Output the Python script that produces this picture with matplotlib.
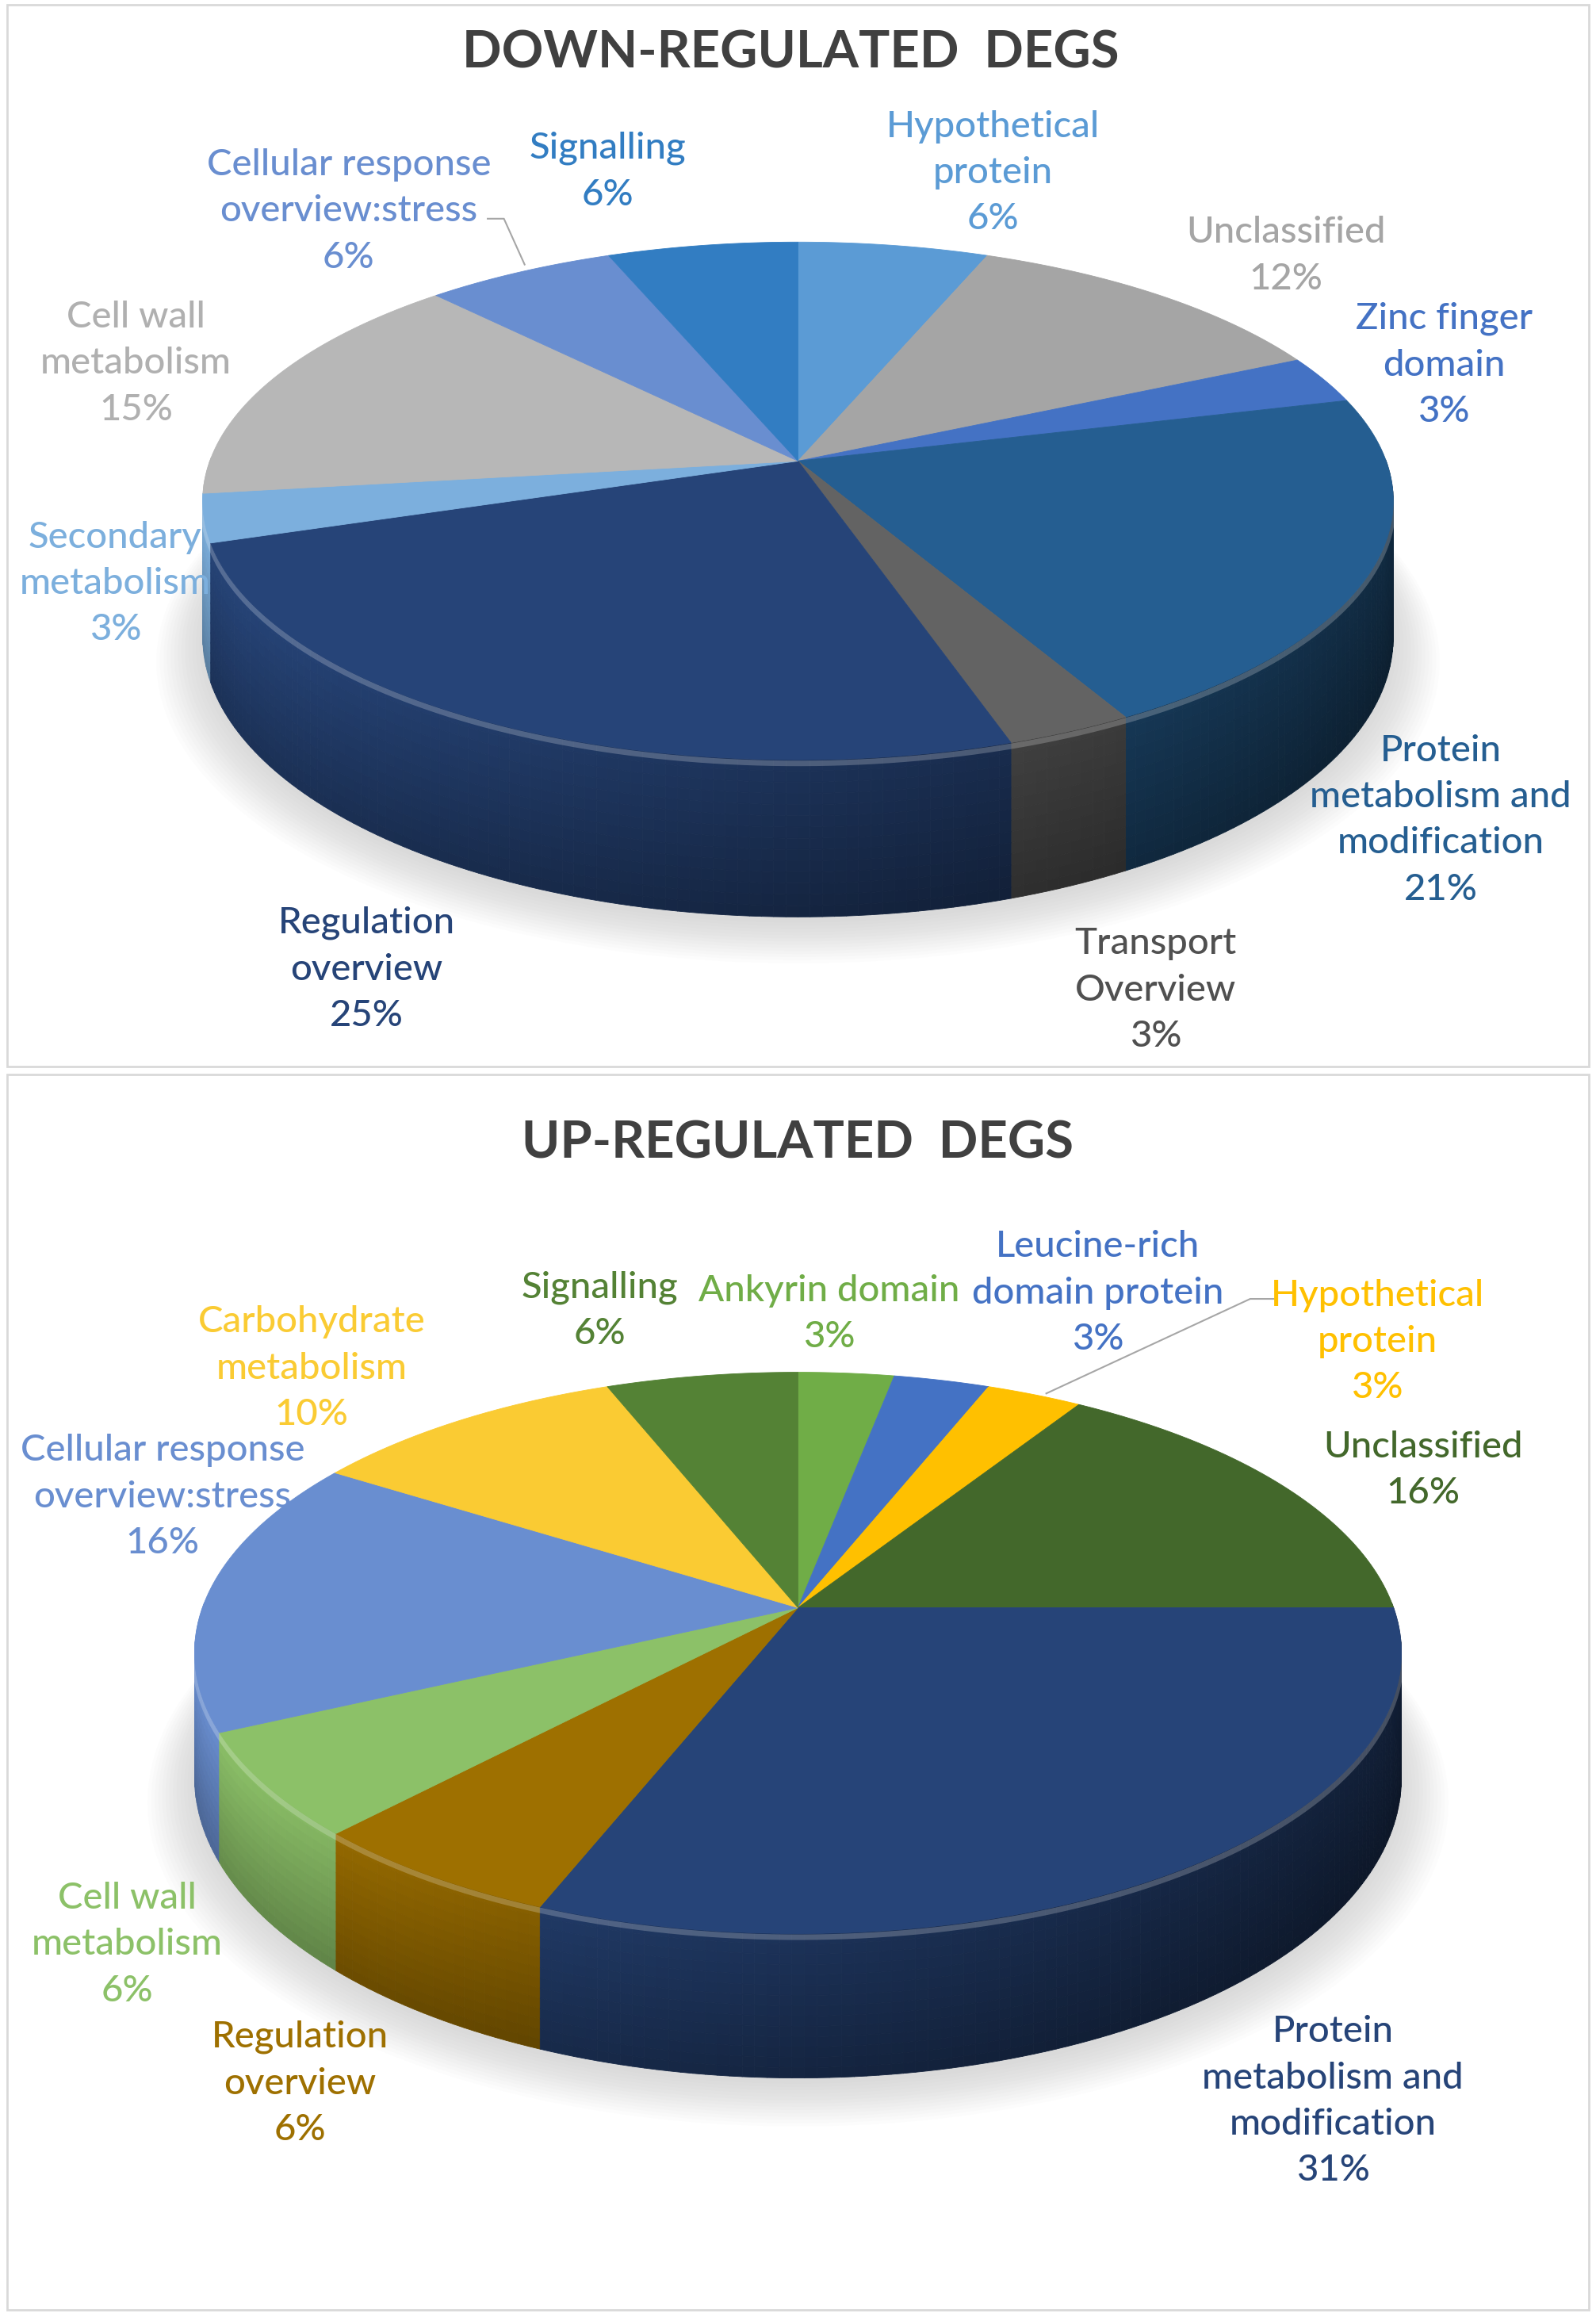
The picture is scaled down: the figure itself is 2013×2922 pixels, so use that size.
import numpy as np
import matplotlib
matplotlib.use("Agg")
import matplotlib.pyplot as plt
from matplotlib.collections import PolyCollection
from matplotlib.patches import Rectangle, Polygon
from matplotlib.colors import to_rgb

plt.rcParams['font.family'] = ['Lato', 'DejaVu Sans']

# ---------------- data ----------------
down_title = "DOWN-REGULATED  DEGS"
down_labels = ["Hypothetical\nprotein", "Unclassified", "Zinc finger\ndomain",
               "Protein\nmetabolism and\nmodification", "Transport\nOverview",
               "Regulation\noverview", "Secondary\nmetabolism", "Cell wall\nmetabolism",
               "Cellular response\noverview:stress", "Signalling"]
down_values = [6, 12, 3, 21, 3, 25, 3, 15, 6, 6]
down_colors = ["#5B9BD5", "#A5A5A5", "#4472C4", "#255E91", "#636363",
               "#264478", "#7CAFDD", "#B7B7B7", "#698ED0", "#327DC2"]
down_label_colors = ["#5B9BD5", "#A5A5A5", "#4472C4", "#255E91", "#505050",
                     "#264478", "#7CAFDD", "#B0B0B0", "#698ED0", "#327DC2"]

up_title = "UP-REGULATED  DEGS"
up_labels = ["Ankyrin domain", "Leucine-rich\ndomain protein", "Hypothetical\nprotein",
             "Unclassified", "Protein\nmetabolism and\nmodification", "Regulation\noverview",
             "Cell wall\nmetabolism", "Cellular response\noverview:stress",
             "Carbohydrate\nmetabolism", "Signalling"]
up_values = [3, 3, 3, 16, 31, 6, 6, 16, 10, 6]
up_colors = ["#70AD47", "#4472C4", "#FFC000", "#43682B", "#264478",
             "#9E7000", "#8CC168", "#698ED0", "#FACB33", "#548235"]
up_label_colors = ["#70AD47", "#4472C4", "#FFC000", "#43682B", "#264478",
                   "#9E7000", "#8CC168", "#698ED0", "#FACB33", "#548235"]

# ---------------- layout (reference pixel space 1080 x 1568) ----------------
W, H = 1080, 1568
down_geom = dict(cx=540, cy=312, s=398, sh=171, k=0.154, D=90)
up_geom = dict(cx=540, cy=1088, s=403, sh=185, k=0.161, D=82)
down_label_pos = [(672, 117), (870, 173), (977, 247), (975, 555), (782, 670),
                  (248, 656), (78, 395), (92, 246), (236, 143), (411, 116)]
up_label_pos = [(561, 889), (743, 875), (932, 908), (963, 995), (902, 1422),
                (203, 1410), (86, 1316), (110, 1013), (211, 926), (406, 887)]

fig = plt.figure(figsize=(20.13, 29.22), dpi=100)
ax = fig.add_axes([0, 0, 1, 1])
ax.set_xlim(0, W)
ax.set_ylim(H, 0)
ax.axis('off')

ax.add_patch(Rectangle((5, 3), 1070, 719, fill=False, ec="#D9D9D9", lw=2))
ax.add_patch(Rectangle((5, 727), 1070, 836, fill=False, ec="#D9D9D9", lw=2))


def proj(t, cx, cy, s, sh, k):
    u, v = np.cos(t), np.sin(t)
    return cx + s * u / (1 + k * v), cy - sh * v / (1 + k * v)


def depth(t, k, D):
    return D / (1 + k * np.sin(t))


def draw_pie(values, colors, g):
    cx, cy, s, sh, k, D = g['cx'], g['cy'], g['s'], g['sh'], g['k'], g['D']
    vals = np.asarray(values, float)
    fr = vals / vals.sum()
    edges = np.pi / 2 - 2 * np.pi * np.concatenate([[0], np.cumsum(fr)])

    # soft shadow
    tt = np.linspace(0, 2 * np.pi, 400)
    bx, by = proj(tt, cx, cy, s, sh, k)
    by = by + depth(tt, k, D)
    for i in range(14):
        sc = 1 + 0.006 * i
        ax.add_patch(Polygon(np.column_stack([cx + (bx - cx) * sc,
                                              cy + D + (by - cy - D) * sc + 4 + i * 0.8]),
                             closed=True, fc="#808080", ec='none', alpha=0.02, zorder=1))

    # sides
    strips = []
    for i in range(len(vals)):
        a0, a1 = edges[i], edges[i + 1]
        n = max(int(np.degrees(a0 - a1)), 2)
        ts = np.linspace(a0, a1, n + 1)
        for j in range(n):
            t0, t1 = ts[j], ts[j + 1]
            tm = 0.5 * (t0 + t1)
            if np.sin(tm) < 0.01:
                strips.append((np.sin(tm), t0, t1, tm, colors[i]))
    strips.sort(key=lambda z: -z[0])
    polys, fcs = [], []
    nr = 14
    for _, t0, t1, tm, c in strips:
        x0, y0 = proj(t0, cx, cy, s, sh, k)
        x1, y1 = proj(t1, cx, cy, s, sh, k)
        d0, d1 = depth(t0, k, D), depth(t1, k, D)
        base = np.array(to_rgb(c))
        fh = min(1.0, 0.74 - 0.30 * np.cos(tm))
        for r in range(nr):
            f0, f1 = r / nr, (r + 1) / nr
            polys.append([(x0, y0 + d0 * f0), (x1, y1 + d1 * f0),
                          (x1, y1 + d1 * f1), (x0, y0 + d0 * f1)])
            fv = 1 - 0.28 * (r + 0.5) / nr
            fcs.append(np.clip(base * fh * fv, 0, 1))
    pc = PolyCollection(polys, facecolors=fcs, edgecolors=fcs, linewidths=0.6, zorder=2)
    ax.add_collection(pc)

    # bevel highlight on the front rim
    tf = np.linspace(np.pi, 2 * np.pi, 300)
    rx, ry = proj(tf, cx, cy, s, sh, k)
    ax.plot(rx, ry + 2.5, color="white", alpha=0.22, lw=5, zorder=3,
            solid_capstyle='butt')

    # top face
    for i in range(len(vals)):
        a0, a1 = edges[i], edges[i + 1]
        ts = np.linspace(a0, a1, 200)
        px, py = proj(ts, cx, cy, s, sh, k)
        pts = np.column_stack([np.r_[cx, px], np.r_[cy, py]])
        ax.add_patch(Polygon(pts, closed=True, fc=colors[i], ec=colors[i], lw=0.6, zorder=4))


def draw_labels(labels, values, lcolors, pos):
    for lab, v, c, (x, y) in zip(labels, values, lcolors, pos):
        ax.text(x, y, f"{lab}\n{v}%", color=c, ha='center', va='center',
                fontsize=34, linespacing=1.48, fontweight='medium', zorder=6)


draw_pie(down_values, down_colors, down_geom)
draw_pie(up_values, up_colors, up_geom)
draw_labels(down_labels, down_values, down_label_colors, down_label_pos)
draw_labels(up_labels, up_values, up_label_colors, up_label_pos)

ax.text(535, 36, down_title, ha='center', va='center', fontsize=47,
        fontweight='bold', color="#404040")
ax.text(540, 774, up_title, ha='center', va='center', fontsize=47,
        fontweight='bold', color="#404040")

# leader lines
ax.plot([330, 341, 355], [148, 148, 179], color="#A6A6A6", lw=1.5, zorder=5)
ax.plot([862, 846, 708], [879, 879, 943], color="#A6A6A6", lw=1.5, zorder=5)

fig.savefig("out.png", dpi=100)
